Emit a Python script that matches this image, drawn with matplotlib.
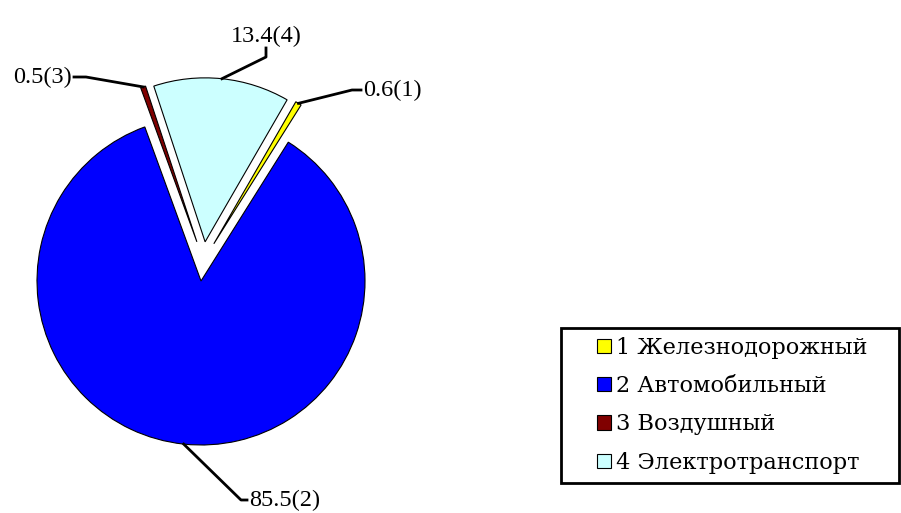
import numpy as np
import matplotlib
matplotlib.use("Agg")
import matplotlib.pyplot as plt
from matplotlib.patches import Rectangle

# data
categories = ["1 Железнодорожный", "2 Автомобильный", "3 Воздушный", "4 Электротранспорт"]
shares = [0.6, 85.5, 0.5, 13.4]
point_labels = ["0.6(1)", "85.5(2)", "0.5(3)", "13.4(4)"]
colors = ["#FFFF00", "#0000FF", "#800000", "#CCFFFF"]

W, H = 901, 513
fig = plt.figure(figsize=(W / 100, H / 100), dpi=100)
ax = fig.add_axes([0, 0, 1, 1])

center = (201, H - 281)
radius = 164
# explosion: distance (fraction of radius) and direction (deg clockwise from 12 o'clock)
explode_frac = [0.24, 0.0, 0.24, 0.24]
explode_dir = [19, 0, -6, 6]

wedges, _ = ax.pie(
    shares,
    colors=colors,
    startangle=60,
    counterclock=False,
    center=center,
    radius=radius,
    wedgeprops=dict(edgecolor="black", linewidth=0.8),
    frame=True,
)
for wedge, frac, ang in zip(wedges, explode_frac, explode_dir):
    a = np.deg2rad(ang)
    wedge.set_center((center[0] + frac * radius * np.sin(a),
                      center[1] + frac * radius * np.cos(a)))

ax.set_xlim(0, W)
ax.set_ylim(0, H)
ax.set_aspect("equal")
ax.axis("off")

# label layout: (elbow point, text anchor point, ha, va) in pixel coords from top-left
label_layout = [
    ((352, 90), (361, 90), "left", "center"),
    ((241, 500), (247, 500), "left", "center"),
    ((86, 77), (74, 77), "right", "center"),
    ((266, 57), (266, 48), "center", "bottom"),
]

label_font = dict(family="Liberation Serif", size=17.5)
for wedge, text, (elbow, anchor, ha, va) in zip(wedges, point_labels, label_layout):
    mid = np.deg2rad((wedge.theta1 + wedge.theta2) / 2)
    cx, cy = wedge.center
    sx = cx + wedge.r * np.cos(mid)
    sy = cy + wedge.r * np.sin(mid)
    ex, ey = elbow[0], H - elbow[1]
    tx, ty = anchor[0], H - anchor[1]
    if va == "bottom":
        ax.plot([sx, ex, ex], [sy, ey, ty], color="black", lw=2)
        ax.text(tx, ty + 1, text, ha=ha, va=va, **label_font)
    else:
        ax.plot([sx, ex, tx], [sy, ey, ty], color="black", lw=2)
        ax.text(tx + (2 if ha == "left" else -2), ty, text, ha=ha, va=va, **label_font)

# legend box drawn separately to get the wide left padding
fig.patches.append(Rectangle((561 / W, 1 - 483 / H), 338 / W, 155 / H,
                             transform=fig.transFigure, fill=False,
                             edgecolor="black", linewidth=2))
leg = ax.legend(
    wedges,
    categories,
    loc="upper left",
    bbox_to_anchor=(597 / W, 1 - 337 / H),
    bbox_transform=fig.transFigure,
    borderaxespad=0,
    borderpad=0,
    frameon=False,
    handlelength=0.6,
    handleheight=0.6,
    handletextpad=0.25,
    labelspacing=0.72,
    prop=dict(family="DejaVu Serif", size=16.2),
)
for h in leg.legend_handles:
    h.set_linewidth(0.8)

fig.savefig("out.png", dpi=100)
